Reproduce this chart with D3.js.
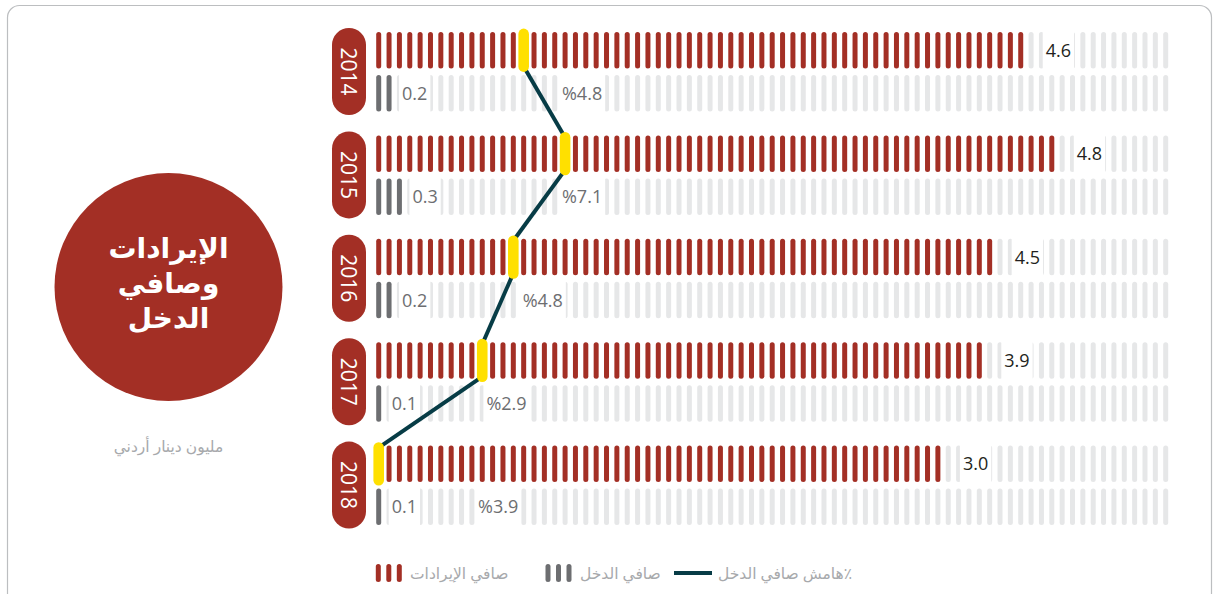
<!DOCTYPE html>
<html>
<head>
<meta charset="utf-8">
<title>الإيرادات وصافي الدخل</title>
<script src="https://cdn.jsdelivr.net/npm/d3@7"></script>
<style>
  body { margin: 0; padding: 0; background: #fff; }
  svg { display: block; font-family: "Open Sans", "DejaVu Sans", sans-serif; }
</style>
</head>
<body>
<div id="chart"></div>
<script>
// data
var years = ["2014", "2015", "2016", "2017", "2018"];
var revenue = [4.6, 4.8, 4.5, 3.9, 3.0];        // صافي الإيرادات
var netIncome = [0.2, 0.3, 0.2, 0.1, 0.1];      // صافي الدخل
var netMargin = [4.8, 7.1, 4.8, 2.9, 3.9];      // هامش صافي الدخل %
var revenueTicks = [63, 66, 60, 59, 55];        // red bars drawn per year
var marginTick = [14, 18, 13, 10, 0];           // bar that is marked yellow
var totalTicks = 77;

// layout: where the margin label starts (in bar units)
var marginLabelAt = [17.7, 17.7, 13.9, 10.4, 9.6];

var W = 1213, H = 594;
var red = "#a32f25", dark = "#6d6e71", light = "#e6e7e8", yellow = "#ffe000", teal = "#073c46";

var svg = d3.select("#chart").append("svg")
  .attr("width", W).attr("height", H);

// frame
svg.append("rect")
  .attr("x", 7.5).attr("y", 5.5)
  .attr("width", 1204).attr("height", 600)
  .attr("rx", 12)
  .attr("fill", "none").attr("stroke", "#bcbec0").attr("stroke-width", 1.2);

var x = d3.scaleLinear().domain([0, totalTicks - 1]).range([378.7, 1165.7]);
var y = d3.scalePoint().domain(years).range([32, 445.6]);

var tickW = 5, tickH = 36.5, rowGap = 43;
var idx = d3.range(totalTicks);

// title circle
svg.append("circle").attr("cx", 168.5).attr("cy", 287).attr("r", 114).attr("fill", red);
var title = ["الإيرادات", "وصافي", "الدخل"];
svg.selectAll(".title").data(title).enter().append("text")
  .attr("class", "title")
  .attr("x", 168.5)
  .attr("y", function (d, i) { return 258 + i * 35; })
  .attr("text-anchor", "middle")
  .attr("fill", "#fff")
  .attr("font-weight", "bold")
  .attr("font-size", 28)
  .text(function (d) { return d; });

svg.append("text")
  .attr("x", 168.5).attr("y", 452)
  .attr("text-anchor", "middle")
  .attr("fill", "#a7a9ac")
  .attr("font-size", 15.5)
  .text("مليون دينار أردني");

var rows = svg.selectAll(".year").data(years).enter().append("g")
  .attr("class", "year")
  .attr("transform", function (d) { return "translate(0," + y(d) + ")"; });

// year pills
rows.append("rect")
  .attr("x", 332).attr("y", -4)
  .attr("width", 34).attr("height", 87)
  .attr("rx", 17)
  .attr("fill", red);
rows.append("text")
  .attr("transform", "translate(349,39.5) rotate(90)")
  .attr("text-anchor", "middle")
  .attr("dy", "0.36em")
  .attr("fill", "#fff")
  .attr("font-size", 21)
  .text(function (d) { return d; });

// revenue and net income bars
rows.each(function (yr, r) {
  var g = d3.select(this);
  g.selectAll(".rev").data(idx).enter().append("rect")
    .attr("class", "rev")
    .attr("x", function (i) { return x(i) - tickW / 2; })
    .attr("y", 0)
    .attr("width", tickW).attr("height", tickH)
    .attr("rx", tickW / 2)
    .attr("fill", function (i) { return i < revenueTicks[r] ? red : light; });

  g.selectAll(".net").data(idx).enter().append("rect")
    .attr("class", "net")
    .attr("x", function (i) { return x(i) - tickW / 2; })
    .attr("y", rowGap)
    .attr("width", tickW).attr("height", tickH)
    .attr("rx", tickW / 2)
    .attr("fill", function (i) { return i < Math.round(netIncome[r] * 10) ? dark : light; });
});

// margin line, from the bottom of one yellow bar to the top of the next
var segs = d3.range(years.length - 1).map(function (r) {
  return [[x(marginTick[r]), y(years[r]) + tickH - 2], [x(marginTick[r + 1]), y(years[r + 1]) + 2]];
});
svg.selectAll(".seg").data(segs).enter().append("path")
  .attr("class", "seg")
  .attr("d", function (d) { return d3.line()(d); })
  .attr("fill", "none")
  .attr("stroke", teal)
  .attr("stroke-width", 4);

// yellow markers on top of the line
svg.selectAll(".mark").data(years).enter().append("rect")
  .attr("class", "mark")
  .attr("x", function (d, r) { return x(marginTick[r]) - 5.3; })
  .attr("y", function (d) { return y(d) - 3.4; })
  .attr("width", 10.6).attr("height", tickH + 6.8)
  .attr("rx", 5.3)
  .attr("fill", yellow);

// labels with a white box behind them
function label(g, tx, ty, txt, color) {
  var box = g.append("rect").attr("fill", "#fff");
  var t = g.append("text")
    .attr("x", tx).attr("y", ty)
    .attr("dy", "0.36em")
    .attr("font-size", 18)
    .attr("fill", color)
    .text(txt);
  var b = t.node().getBBox();
  box.attr("x", b.x - 3).attr("y", ty - tickH / 2 - 1)
    .attr("width", b.width + 6).attr("height", tickH + 2);
}

rows.each(function (yr, r) {
  var g = d3.select(this);
  label(g, x(revenueTicks[r] - 1) + 25, tickH / 2, d3.format(".1f")(revenue[r]), "#231f20");
  label(g, x(Math.round(netIncome[r] * 10) - 1) + 13, rowGap + tickH / 2, d3.format(".1f")(netIncome[r]), dark);
  label(g, x(marginLabelAt[r]), rowGap + tickH / 2, "%" + d3.format(".1f")(netMargin[r]), dark);
});

// legend
var leg = svg.append("g").attr("transform", "translate(0,573)");
var legendText = "#a7a9ac";
[[378.3, red], [548, dark]].forEach(function (s) {
  leg.selectAll(null).data([0, 1, 2]).enter().append("rect")
    .attr("x", function (i) { return s[0] + i * 10.5 - 2.5; })
    .attr("y", -9)
    .attr("width", 5).attr("height", 18)
    .attr("rx", 2.5)
    .attr("fill", s[1]);
});
leg.append("line")
  .attr("x1", 674).attr("x2", 712)
  .attr("y1", 0).attr("y2", 0)
  .attr("stroke", teal).attr("stroke-width", 4);

var legItems = [[410, "صافي الإيرادات"], [580, "صافي الدخل"], [718, "هامش صافي الدخل٪"]];
leg.selectAll(".lt").data(legItems).enter().append("text")
  .attr("class", "lt")
  .attr("x", function (d) { return d[0]; })
  .attr("y", 0)
  .attr("dy", "0.36em")
  .attr("font-size", 15.5)
  .attr("fill", legendText)
  .text(function (d) { return d[1]; });
</script>
</body>
</html>
